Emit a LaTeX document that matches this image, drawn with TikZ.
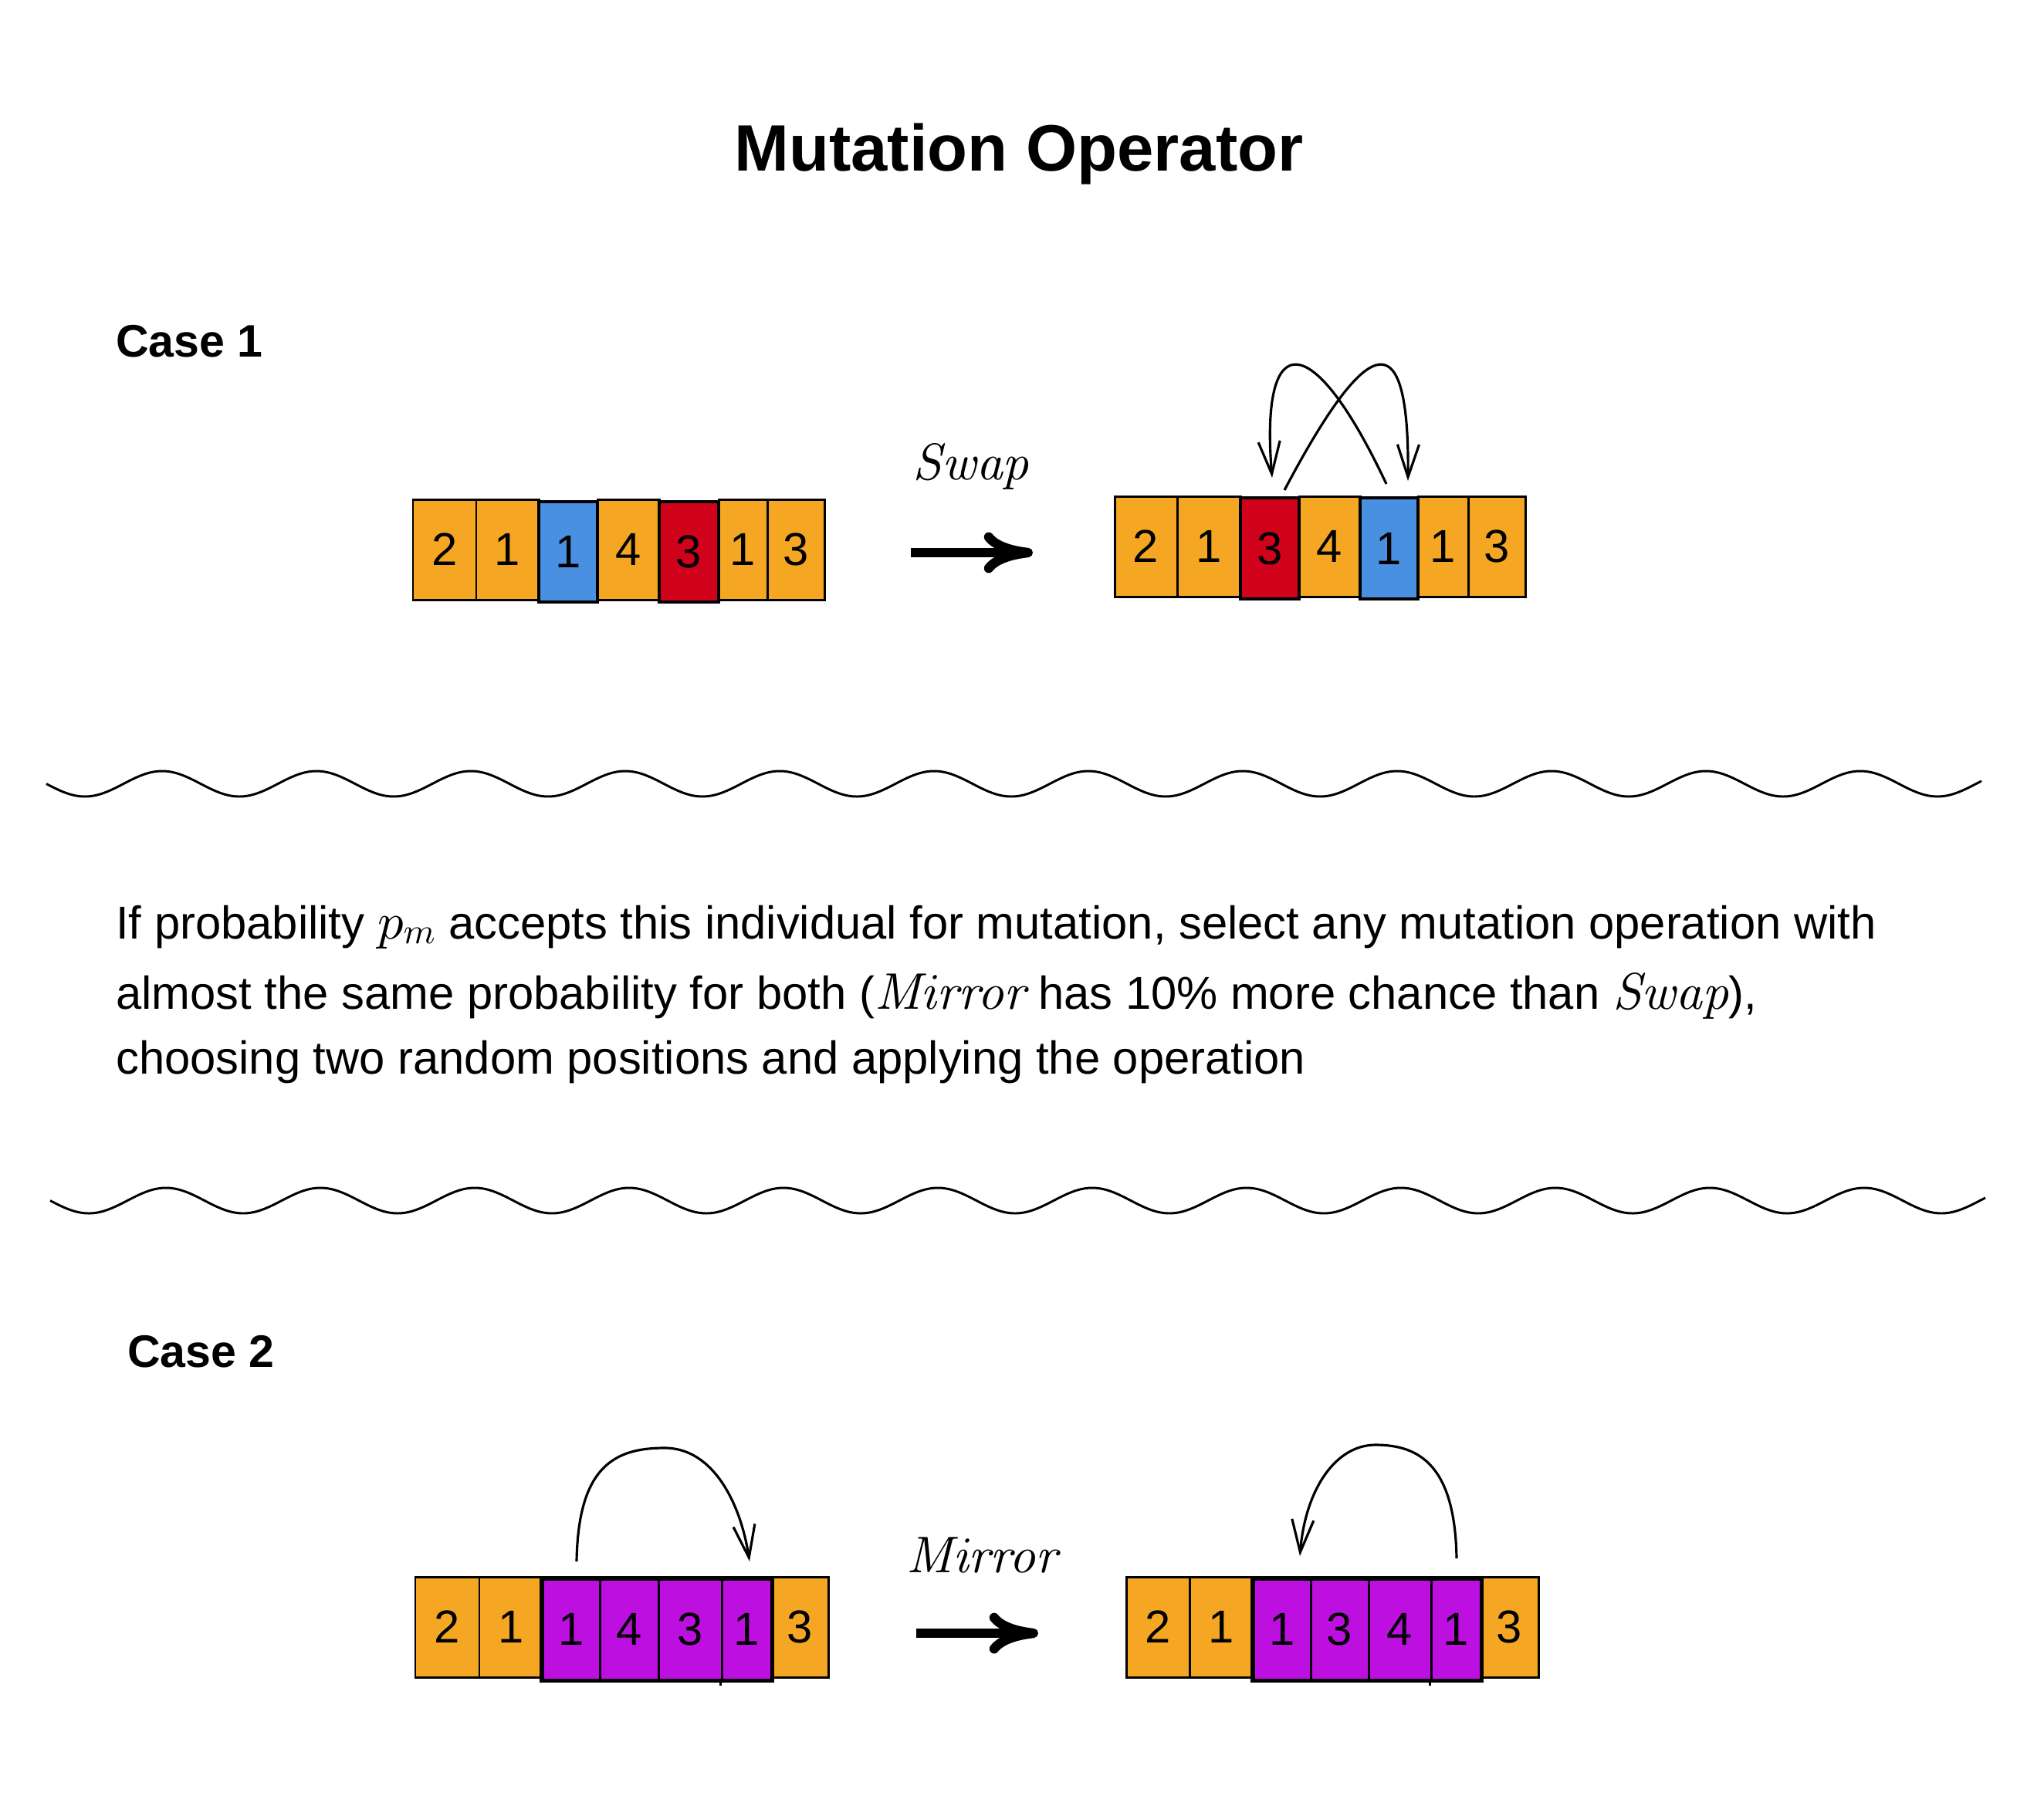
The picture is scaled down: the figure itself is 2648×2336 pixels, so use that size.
\documentclass[tikz,border=0pt]{standalone}
\usepackage{fontspec}
\setmainfont{Liberation Sans}
\DeclareFontFamily{OML}{cmm}{\skewchar\font'177}
\DeclareFontShape{OML}{cmm}{m}{it}{<->cmmi10}{}
\DeclareFontShape{OML}{cmm}{b}{it}{<->cmmib10}{}
\font\opit=cmti10 at 38pt
\usetikzlibrary{arrows.meta}
\definecolor{orng}{HTML}{F5A623}
\definecolor{blu}{HTML}{4A90E2}
\definecolor{rd}{HTML}{D0021B}
\definecolor{purp}{HTML}{BD10E0}
% name, x1, x2, y1, y2, fill colour, digit, extra style
\newcommand\mkcell[8]{%
  \node[cellst,#8,fill=#6,minimum width={(#3-#2)*0.02cm},minimum height={(#5-#4)*0.02cm}]
    (#1) at ({(#2+#3)/2},{(#4+#5)/2}) {#7};}
\newcommand\opword[1]{{\opit #1}}
\begin{document}
\begin{tikzpicture}[x=0.02cm,y=-0.02cm,
  cellst/.style={draw=black,line width=1.7pt,inner sep=0pt,font=\fontsize{34}{40}\selectfont},
  hl/.style={line width=2.8pt},
  grp/.style={draw=black,line width=2.8pt},
  titlest/.style={inner sep=0pt,font=\fontsize{48.4}{56}\selectfont\bfseries},
  casest/.style={inner sep=0pt,font=\fontsize{33.6}{40}\selectfont\bfseries},
  bodyst/.style={inner sep=0pt,font=\fontsize{34}{40}\selectfont},
  opst/.style={inner sep=0pt},
  wave/.style={line width=1.7pt},
  curvearrow/.style={line width=1.8pt,-{Straight Barb[length=24pt,width=16pt]}},
  bigarrow/.style={line width=7pt,-{Computer Modern Rightarrow[length=36pt,width=30pt]}}]
\useasboundingbox (0,0) rectangle (2648,2336);

% title and labels
\node[titlest,anchor=base] (title) at (1320,221) {Mutation Operator};
\node[casest,anchor=base west] (case1) at (150,462) {Case 1};
\node[casest,anchor=base west] (case2) at (165,1771) {Case 2};

% ---------- Case 1, left ----------
\mkcell{La1}{535}{617}{647}{777}{orng}{2}{}
\mkcell{La2}{617}{698}{647}{777}{orng}{1}{}
\mkcell{La4}{774}{854}{647}{777}{orng}{4}{}
\mkcell{La6}{931}{994}{647}{777}{orng}{1}{}
\mkcell{La7}{994}{1068}{647}{777}{orng}{3}{}
\mkcell{La3}{698}{774}{650}{780}{blu}{1}{hl}
\mkcell{La5}{854}{931}{650}{780}{rd}{3}{hl}

% ---------- Case 1, right ----------
\mkcell{Ra1}{1444}{1525}{643}{773}{orng}{2}{}
\mkcell{Ra2}{1525}{1607}{643}{773}{orng}{1}{}
\mkcell{Ra4}{1683}{1762}{643}{773}{orng}{4}{}
\mkcell{Ra6}{1837}{1902}{643}{773}{orng}{1}{}
\mkcell{Ra7}{1902}{1976}{643}{773}{orng}{3}{}
\mkcell{Ra3}{1607}{1683}{645}{776}{rd}{3}{hl}
\mkcell{Ra5}{1762}{1837}{645}{776}{blu}{1}{hl}

% swap arrow and label
\coordinate (s1a) at (1180,716);
\coordinate (s1b) at (1338,716);
\draw[bigarrow] (s1a) -- (s1b);
\node[opst,anchor=base] (swap) at (1258,621) {\opword{Swap}};

% swap curves
\coordinate (a1s) at (1664,635);
\coordinate (a1e) at (1824,623);
\draw[curvearrow] (a1s) .. controls (1777,421) and (1826,421) .. (a1e);
\coordinate (b1s) at (1796,627);
\coordinate (b1e) at (1648,619);
\draw[curvearrow] (b1s) .. controls (1700,423) and (1632,423) .. (b1e);

% ---------- waves ----------
\draw[wave] plot[domain=60:2567,samples=500,smooth] (\x,{1015.5+16.5*sin(1.8*(\x-60))});
\draw[wave] plot[domain=65:2572,samples=500,smooth] (\x,{1555.5+16.5*sin(1.8*(\x-65))});

% ---------- paragraph ----------
\node[bodyst,anchor=base west] (t1) at (150,1216) {If probability {\fontsize{38}{40}\selectfont$p_m$} accepts this individual for mutation, select any mutation operation with};
\node[bodyst,anchor=base west] (t2) at (150,1307) {almost the same probability for both (\opword{Mirror} has 10\% more chance than \opword{Swap}),};
\node[bodyst,anchor=base west] (t3) at (150,1391) {choosing two random positions and applying the operation};

% ---------- Case 2, left ----------
\mkcell{Lb1}{538}{621}{2043}{2173}{orng}{2}{}
\mkcell{Lb2}{621}{703}{2043}{2173}{orng}{1}{}
\mkcell{Lb7}{999}{1073}{2043}{2173}{orng}{3}{}
\mkcell{Lb3}{703}{777}{2046}{2176}{purp}{1}{}
\mkcell{Lb4}{777}{853}{2046}{2176}{purp}{4}{}
\mkcell{Lb5}{853}{935}{2046}{2176}{purp}{3}{}
\mkcell{Lb6}{935}{999}{2046}{2176}{purp}{1}{}
\draw[grp] (Lb3.north west) rectangle (Lb6.south east);
\draw[line width=1.7pt] (Lb6.south west) -- ++(0,6);

% ---------- Case 2, right ----------
\mkcell{Rb1}{1459}{1541}{2043}{2173}{orng}{2}{}
\mkcell{Rb2}{1541}{1624}{2043}{2173}{orng}{1}{}
\mkcell{Rb7}{1918}{1993}{2043}{2173}{orng}{3}{}
\mkcell{Rb3}{1624}{1698}{2046}{2176}{purp}{1}{}
\mkcell{Rb4}{1698}{1773}{2046}{2176}{purp}{3}{}
\mkcell{Rb5}{1773}{1854}{2046}{2176}{purp}{4}{}
\mkcell{Rb6}{1854}{1918}{2046}{2176}{purp}{1}{}
\draw[grp] (Rb3.north west) rectangle (Rb6.south east);
\draw[line width=1.7pt] (Rb6.south west) -- ++(0,6);

% mirror arrow and label
\coordinate (m2a) at (1187,2116);
\coordinate (m2b) at (1345,2116);
\draw[bigarrow] (m2a) -- (m2b);
\node[opst,anchor=base] (mirror) at (1272,2037) {\opword{Mirror}};

% mirror curves
\coordinate (c2s) at (747,2023);
\coordinate (c2p) at (861,1876);
\coordinate (c2e) at (971,2023);
\draw[curvearrow] (c2s) .. controls (749,1900) and (796,1876) .. (c2p) .. controls (925,1876) and (960,1950) .. (c2e);
\coordinate (d2s) at (1887,2019);
\coordinate (d2p) at (1782,1872);
\coordinate (d2e) at (1684,2016);
\draw[curvearrow] (d2s) .. controls (1885,1900) and (1840,1872) .. (d2p) .. controls (1730,1872) and (1691,1930) .. (d2e);
\end{tikzpicture}
\end{document}
